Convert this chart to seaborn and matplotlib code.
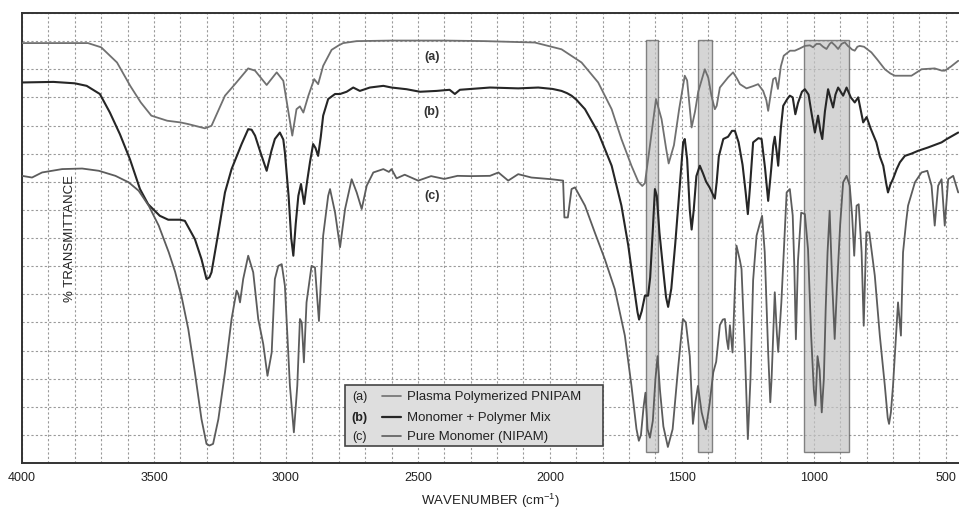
import numpy as np
import pandas as pd
import matplotlib
matplotlib.use("Agg")
import matplotlib.pyplot as plt
import seaborn as sns
from matplotlib.patches import Rectangle
from matplotlib.ticker import MultipleLocator, NullFormatter

# --- spectra (wavenumber cm-1, transmittance in grid units 0-16) ---
wn_a = [4000, 3750, 3700, 3640, 3590, 3550, 3510, 3450, 3400, 3370, 3307, 3282, 3231, 3193,
        3143, 3117, 3073, 3035, 3010, 2976, 2960, 2947, 2934, 2915, 2893, 2878, 2859, 2827,
        2800, 2783, 2732, 2600, 2400, 2246, 2057, 1956, 1880, 1817, 1766, 1729, 1691, 1665,
        1650, 1640, 1621, 1598, 1577, 1560, 1550, 1530, 1510, 1489, 1480, 1463, 1450, 1438,
        1413, 1400, 1388, 1375, 1368, 1356, 1325, 1306, 1290, 1280, 1255, 1230, 1211, 1192,
        1180, 1173, 1162, 1154, 1145, 1136, 1125, 1114, 1090, 1072, 1053, 1034, 1015, 1003,
        990, 977, 965, 952, 940, 933, 920, 908, 895, 883, 870, 864, 855, 845, 835, 826, 810,
        782, 760, 731, 710, 693, 630, 600, 592, 542, 515, 504, 480, 453]
tr_a = [14.93, 14.93, 14.78, 14.24, 13.41, 12.82, 12.35, 12.17, 12.11, 12.05, 11.90, 11.99,
        13.06, 13.47, 14.03, 13.95, 13.44, 13.89, 13.59, 11.64, 12.58, 12.68, 12.46, 13.06,
        13.65, 13.47, 14.12, 14.69, 14.85, 14.93, 15.00, 15.02, 15.02, 15.00, 14.95, 14.71,
        14.24, 13.53, 12.58, 11.52, 10.57, 10.00, 9.85, 9.95, 11.28, 12.94, 12.23, 11.20,
        10.65, 11.30, 12.60, 13.77, 13.60, 11.93, 12.50, 13.20, 14.00, 13.70, 13.06, 12.58,
        12.70, 13.35, 13.71, 13.89, 13.65, 13.47, 13.32, 13.40, 13.47, 13.23, 12.90, 12.52,
        13.20, 13.65, 13.70, 13.30, 14.10, 14.48, 14.66, 14.66, 14.74, 14.83, 14.85, 14.78,
        14.90, 14.90, 14.80, 14.72, 14.90, 14.96, 14.85, 14.72, 14.90, 14.96, 14.82, 14.78,
        14.70, 14.66, 14.80, 14.83, 14.80, 14.60, 14.35, 14.00, 13.85, 13.77, 13.77, 13.95,
        14.00, 14.03, 13.95, 13.95, 14.10, 14.30]

wn_b = [4000, 3881, 3800, 3755, 3705, 3667, 3629, 3591, 3553, 3522, 3478, 3446, 3402, 3383,
        3345, 3320, 3301, 3290, 3282, 3256, 3231, 3206, 3168, 3143, 3130, 3117, 3095, 3073,
        3055, 3042, 3023, 3010, 3004, 2990, 2980, 2972, 2963, 2953, 2943, 2931, 2920, 2909,
        2897, 2888, 2878, 2868, 2859, 2840, 2814, 2795, 2770, 2745, 2720, 2682, 2631, 2600,
        2543, 2492, 2429, 2380, 2360, 2341, 2227, 2120, 2044, 1990, 1956, 1935, 1918, 1900,
        1867, 1817, 1766, 1729, 1703, 1684, 1668, 1662, 1652, 1640, 1628, 1620, 1610, 1602,
        1595, 1585, 1570, 1560, 1552, 1540, 1525, 1510, 1495, 1489, 1480, 1470, 1463, 1455,
        1445, 1432, 1420, 1408, 1395, 1385, 1375, 1368, 1360, 1343, 1325, 1310, 1299, 1285,
        1270, 1258, 1250, 1242, 1230, 1210, 1198, 1185, 1173, 1162, 1154, 1148, 1140, 1135,
        1125, 1116, 1100, 1091, 1080, 1070, 1060, 1045, 1034, 1020, 1008, 996, 984, 975, 968,
        958, 946, 935, 927, 918, 908, 889, 876, 860, 845, 832, 813, 800, 785, 763, 750, 737,
        725, 719, 710, 700, 686, 674, 655, 630, 605, 567, 516, 496, 453]
tr_b = [13.53, 13.55, 13.50, 13.41, 13.12, 12.46, 11.69, 10.80, 9.74, 9.20, 8.79, 8.65, 8.65,
        8.61, 7.96, 7.25, 6.54, 6.60, 6.78, 8.20, 9.62, 10.45, 11.34, 11.87, 11.85, 11.64,
        11.00, 10.39, 11.10, 11.52, 11.75, 11.50, 11.04, 9.50, 8.00, 7.37, 8.50, 9.50, 9.92,
        9.21, 10.00, 10.69, 11.34, 11.20, 10.92, 11.60, 12.35, 12.94, 13.12, 13.12, 13.20,
        13.35, 13.23, 13.35, 13.41, 13.35, 13.29, 13.20, 13.23, 13.27, 13.12, 13.27, 13.35,
        13.32, 13.35, 13.30, 13.23, 13.15, 13.06, 12.92, 12.58, 11.75, 10.57, 9.15, 7.73,
        6.42, 5.36, 5.10, 5.40, 5.95, 5.95, 6.60, 8.30, 9.74, 9.50, 8.20, 6.80, 5.90, 5.55,
        6.20, 7.80, 9.60, 11.40, 11.52, 10.80, 9.00, 8.30, 9.00, 10.20, 10.57, 10.30, 10.00,
        9.80, 9.60, 9.40, 10.00, 10.90, 11.52, 11.60, 11.81, 11.81, 11.40, 10.60, 9.60, 8.85,
        9.80, 11.40, 11.55, 11.52, 10.50, 9.32, 10.40, 11.28, 11.60, 11.00, 10.57, 11.90,
        12.70, 12.95, 13.06, 13.00, 12.40, 12.80, 13.20, 13.29, 13.10, 12.40, 11.75, 12.35,
        11.80, 11.52, 12.50, 13.29, 12.90, 12.64, 13.10, 13.35, 13.06, 13.35, 13.00, 12.82,
        13.00, 12.11, 12.30, 11.90, 11.40, 10.90, 10.57, 9.90, 9.62, 9.90, 10.10, 10.45,
        10.69, 10.92, 11.00, 11.10, 11.22, 11.40, 11.52, 11.75]

wn_c = [4000, 3962, 3924, 3848, 3772, 3709, 3646, 3596, 3558, 3520, 3482, 3444, 3420, 3395,
        3370, 3345, 3320, 3301, 3290, 3276, 3256, 3231, 3206, 3187, 3180, 3174, 3162, 3143,
        3124, 3105, 3086, 3070, 3054, 3042, 3029, 3016, 3004, 2985, 2970, 2957, 2947, 2940,
        2932, 2922, 2903, 2890, 2875, 2859, 2840, 2833, 2814, 2795, 2776, 2751, 2732, 2713,
        2694, 2669, 2631, 2610, 2600, 2581, 2550, 2499, 2450, 2400, 2350, 2300, 2227, 2195,
        2158, 2120, 2070, 1994, 1950, 1945, 1932, 1918, 1905, 1867, 1830, 1792, 1754, 1716,
        1691, 1672, 1663, 1655, 1645, 1638, 1630, 1621, 1610, 1600, 1592, 1583, 1570, 1553,
        1535, 1515, 1496, 1485, 1470, 1458, 1448, 1439, 1425, 1409, 1395, 1381, 1370, 1356,
        1345, 1337, 1330, 1324, 1318, 1308, 1300, 1293, 1280, 1274, 1261, 1250, 1240, 1230,
        1217, 1205, 1196, 1186, 1173, 1165, 1160, 1154, 1148, 1140, 1135, 1123, 1103, 1091,
        1080, 1074, 1068, 1060, 1048, 1034, 1022, 1010, 1000, 994, 986, 978, 970, 962, 955,
        948, 940, 931, 921, 912, 900, 889, 876, 864, 855, 847, 838, 830, 819, 811, 801, 790,
        769, 750, 731, 720, 715, 708, 700, 681, 670, 662, 650, 643, 617, 592, 570, 554, 542,
        529, 516, 504, 491, 472, 453]
tr_c = [10.21, 10.15, 10.33, 10.45, 10.47, 10.39, 10.21, 9.98, 9.68, 9.15, 8.44, 7.49, 6.80,
        5.90, 4.76, 3.22, 1.56, 0.68, 0.62, 0.68, 1.56, 3.22, 5.12, 6.13, 6.00, 5.71, 6.54,
        7.37, 6.78, 5.12, 4.23, 3.10, 3.93, 6.54, 7.01, 7.07, 6.30, 2.75, 1.09, 2.75, 5.12,
        5.00, 3.58, 5.71, 7.01, 6.95, 5.05, 8.08, 9.50, 9.74, 8.91, 7.67, 9.03, 10.09, 9.62,
        9.03, 9.86, 10.33, 10.45, 10.35, 10.45, 10.12, 10.25, 10.04, 10.20, 10.10, 10.21,
        10.20, 10.21, 10.33, 10.04, 10.27, 10.15, 10.09, 10.04, 8.73, 8.73, 9.74, 9.80, 9.15,
        8.20, 7.25, 6.18, 4.53, 2.75, 1.21, 0.79, 1.00, 2.00, 2.50, 1.20, 0.90, 1.50, 3.00,
        3.80, 2.60, 1.30, 0.57, 1.20, 3.30, 5.12, 5.00, 3.80, 1.39, 2.20, 2.74, 1.80, 1.20,
        2.10, 3.22, 3.60, 4.90, 5.10, 5.12, 4.40, 4.05, 4.90, 3.93, 6.00, 7.73, 7.20, 6.90,
        3.93, 0.85, 3.00, 6.50, 8.08, 8.50, 8.79, 7.49, 3.93, 2.16, 3.00, 4.53, 6.07, 4.60,
        3.95, 5.71, 9.62, 9.74, 8.80, 7.00, 4.40, 7.20, 8.90, 8.85, 7.60, 4.50, 2.60, 2.04,
        3.80, 3.30, 1.80, 3.00, 5.50, 7.49, 8.97, 6.54, 4.41, 6.30, 8.50, 9.98, 10.21, 9.86,
        8.80, 7.37, 9.15, 9.20, 7.49, 4.88, 8.20, 8.20, 6.66, 4.53, 2.75, 1.60, 1.39, 1.80,
        2.75, 5.71, 4.53, 7.49, 8.60, 9.15, 9.98, 10.33, 10.39, 9.86, 8.44, 9.86, 10.09, 8.44,
        10.09, 10.21, 9.62]

series_keys = ["a", "b", "c"]
series_names = ["Plasma Polymerized PNIPAM", "Monomer + Polymer Mix", "Pure Monomer (NIPAM)"]
series_colors = ["#707070", "#262626", "#5c5c5c"]
series_widths = [1.3, 1.5, 1.3]

# highlighted bands (cm-1)
band_lo = [1592, 1385, 868]
band_hi = [1637, 1439, 1036]

df = pd.concat([
    pd.DataFrame({"wavenumber": wn_a, "transmittance": tr_a, "sample": "a"}),
    pd.DataFrame({"wavenumber": wn_b, "transmittance": tr_b, "sample": "b"}),
    pd.DataFrame({"wavenumber": wn_c, "transmittance": tr_c, "sample": "c"}),
])

sns.set_style("white")
plt.rcParams["font.family"] = ["Liberation Sans", "DejaVu Sans"]

fig = plt.figure(figsize=(9.59, 5.10), dpi=100)
ax = fig.add_axes([22 / 959, 46 / 510, 937 / 959, 450 / 510])

# grey bands behind the curves
for lo, hi in zip(band_lo, band_hi):
    ax.axvspan(lo, hi, ymin=0.39 / 16, ymax=15.05 / 16, facecolor="#c4c4c4",
               edgecolor="#555555", linewidth=1.0, alpha=0.7, zorder=1)

for key, col, lw in zip(series_keys, series_colors, series_widths):
    sns.lineplot(data=df[df["sample"] == key], x="wavenumber", y="transmittance",
                 color=col, linewidth=lw, estimator=None, ax=ax, zorder=3)

ax.set_xlim(4000, 450)
ax.set_ylim(0, 16)

ax.xaxis.set_major_locator(MultipleLocator(500))
ax.xaxis.set_minor_locator(MultipleLocator(100))
ax.yaxis.set_major_locator(MultipleLocator(1))
ax.yaxis.set_major_formatter(NullFormatter())
ax.tick_params(axis="y", length=0)
ax.tick_params(axis="x", which="major", direction="inout", length=7, width=1.0,
               color="#333333", labelsize=9, pad=2, labelcolor="#222222")
ax.tick_params(axis="x", which="minor", direction="inout", length=5, width=0.9, color="#333333")

ax.grid(True, which="both", axis="x", color="#9a9a9a", linestyle=(0, (2, 2)), linewidth=0.8, zorder=0)
ax.grid(True, which="major", axis="y", color="#9a9a9a", linestyle=(0, (2, 2)), linewidth=0.8, zorder=0)
ax.set_axisbelow(True)

for side in ["left", "top", "bottom"]:
    ax.spines[side].set_color("#333333")
    ax.spines[side].set_linewidth(1.4)
ax.spines["right"].set_visible(False)

ax.set_xlabel("WAVENUMBER (cm$^{\\mathregular{-1}}$)", fontsize=9.5, color="#222222", labelpad=6)
ax.set_ylabel("")
ax.text(0.051, 0.5, "% TRANSMITTANCE", transform=ax.transAxes, rotation=90,
        ha="center", va="center", fontsize=9.5, color="#222222")

# curve tags
for key, ty in zip(series_keys, [14.47, 12.5, 9.53]):
    ax.text(2447, ty, f"({key})", ha="center", va="center", fontsize=9,
            fontweight="bold", color="#333333", zorder=4)

# legend box
ax.add_patch(Rectangle((0.345, 0.038), 0.275, 0.135, transform=ax.transAxes,
                       facecolor="#dedede", edgecolor="#444444", linewidth=1.2, zorder=5))
for i, (key, name, col) in enumerate(zip(series_keys, series_names, series_colors)):
    yy = [0.149, 0.102, 0.060][i]
    ax.text(0.352, yy, f"({key})", transform=ax.transAxes, ha="left", va="center",
            fontsize=9, fontweight="bold" if key == "b" else "normal", color="#222222", zorder=6)
    ax.plot([0.384, 0.405], [yy, yy], transform=ax.transAxes, color=col,
            linewidth=1.6 if key == "b" else 1.2, zorder=6)
    ax.text(0.411, yy, name, transform=ax.transAxes, ha="left", va="center",
            fontsize=9.5, color="#222222", zorder=6)

fig.savefig("out.png", dpi=100)
